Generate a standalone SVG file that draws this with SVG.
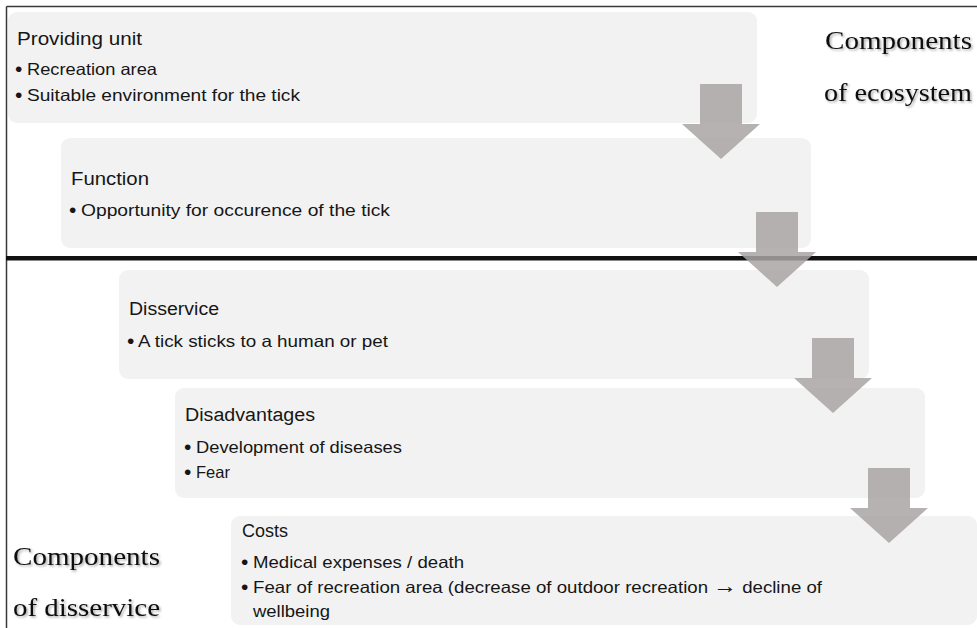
<svg xmlns="http://www.w3.org/2000/svg" width="977" height="628" viewBox="0 0 977 628">
<defs>
<style>
.box{fill:#f2f2f2;}
.t{font-family:"Liberation Sans",Arial,sans-serif;fill:#161616;}
.ti{font-size:18px;}
.b{font-size:16.5px;}
.bu{font-family:"Liberation Sans",Arial,sans-serif;fill:#161616;font-size:21px;}
.ar{font-size:21px;font-weight:bold;}
.lab{font-family:"Liberation Serif","Times New Roman",serif;font-size:25px;fill:#111;filter:url(#sh);}
.arr{fill:#a8a4a3;fill-opacity:0.85;}
</style>
<filter id="sh" x="-10%" y="-30%" width="130%" height="160%">
<feDropShadow dx="1.5" dy="1.5" stdDeviation="1" flood-color="#000" flood-opacity="0.35"/>
</filter>
</defs>
<rect width="977" height="628" fill="#ffffff"/>
<g id="frame">
<line x1="6.5" y1="6.5" x2="977" y2="6.5" stroke="#3a3a3a" stroke-width="1.5"/>
<line x1="6.5" y1="6.5" x2="6.5" y2="628" stroke="#3a3a3a" stroke-width="1.5"/>
</g>
<g id="providing-unit">
<rect class="box" x="8" y="12" width="749" height="111" rx="9"/>
<text class="t ti" x="17" y="45" textLength="125" lengthAdjust="spacingAndGlyphs">Providing unit</text>
<text class="bu" x="15" y="76">•</text>
<text class="t b" x="27" y="75" textLength="130" lengthAdjust="spacingAndGlyphs">Recreation area</text>
<text class="bu" x="15" y="102">•</text>
<text class="t b" x="27" y="101" textLength="273" lengthAdjust="spacingAndGlyphs">Suitable environment for the tick</text>
</g>
<g id="function">
<rect class="box" x="61" y="138" width="750" height="110" rx="9"/>
<text class="t ti" x="71" y="185" textLength="78" lengthAdjust="spacingAndGlyphs">Function</text>
<text class="bu" x="69" y="217">•</text>
<text class="t b" x="81" y="216" textLength="309" lengthAdjust="spacingAndGlyphs">Opportunity for occurence of the tick</text>
</g>
<rect id="divider" x="6" y="256" width="971" height="4.5" fill="#111"/>
<g id="disservice">
<rect class="box" x="119" y="270" width="750" height="109" rx="9"/>
<text class="t ti" x="129" y="315" textLength="90" lengthAdjust="spacingAndGlyphs">Disservice</text>
<text class="bu" x="127" y="348">•</text>
<text class="t b" x="138" y="347" textLength="250" lengthAdjust="spacingAndGlyphs">A tick sticks to a human or pet</text>
</g>
<g id="disadvantages">
<rect class="box" x="175" y="388" width="750" height="110" rx="9"/>
<text class="t ti" x="185" y="421" textLength="130" lengthAdjust="spacingAndGlyphs">Disadvantages</text>
<text class="bu" x="184" y="454">•</text>
<text class="t b" x="196" y="453" textLength="206" lengthAdjust="spacingAndGlyphs">Development of diseases</text>
<text class="bu" x="184" y="479">•</text>
<text class="t b" x="196" y="478" textLength="34" lengthAdjust="spacingAndGlyphs">Fear</text>
</g>
<g id="costs">
<rect class="box" x="231" y="516" width="746" height="109" rx="9"/>
<text class="t ti" x="242" y="537" textLength="46" lengthAdjust="spacingAndGlyphs">Costs</text>
<text class="bu" x="241" y="569">•</text>
<text class="t b" x="253" y="568" textLength="211" lengthAdjust="spacingAndGlyphs">Medical expenses / death</text>
<text class="bu" x="241" y="594">•</text>
<text class="t b" x="253" y="593" textLength="569" lengthAdjust="spacingAndGlyphs">Fear of recreation area (decrease of outdoor recreation <tspan class="ar">→</tspan> decline of</text>
<text class="t b" x="253" y="617" textLength="77" lengthAdjust="spacingAndGlyphs">wellbeing</text>
</g>
<g id="connectors">
<path class="arr" d="M700,84 H742 V124 H760 L721,159 L682,124 H700 Z"/>
<path class="arr" d="M756,212 H798 V252 H816 L777,287 L738,252 H756 Z"/>
<path class="arr" d="M812,338 H854 V378 H872 L833,413 L794,378 H812 Z"/>
<path class="arr" d="M868,468 H910 V508 H928 L889,543 L850,508 H868 Z"/>
</g>
<g id="labels">
<text class="lab" x="825" y="49" textLength="147" lengthAdjust="spacingAndGlyphs">Components</text>
<text class="lab" x="824" y="101" textLength="148" lengthAdjust="spacingAndGlyphs">of ecosystem</text>
<text class="lab" x="13" y="565" textLength="147" lengthAdjust="spacingAndGlyphs">Components</text>
<text class="lab" x="13" y="616" textLength="147" lengthAdjust="spacingAndGlyphs">of disservice</text>
</g>
</svg>
